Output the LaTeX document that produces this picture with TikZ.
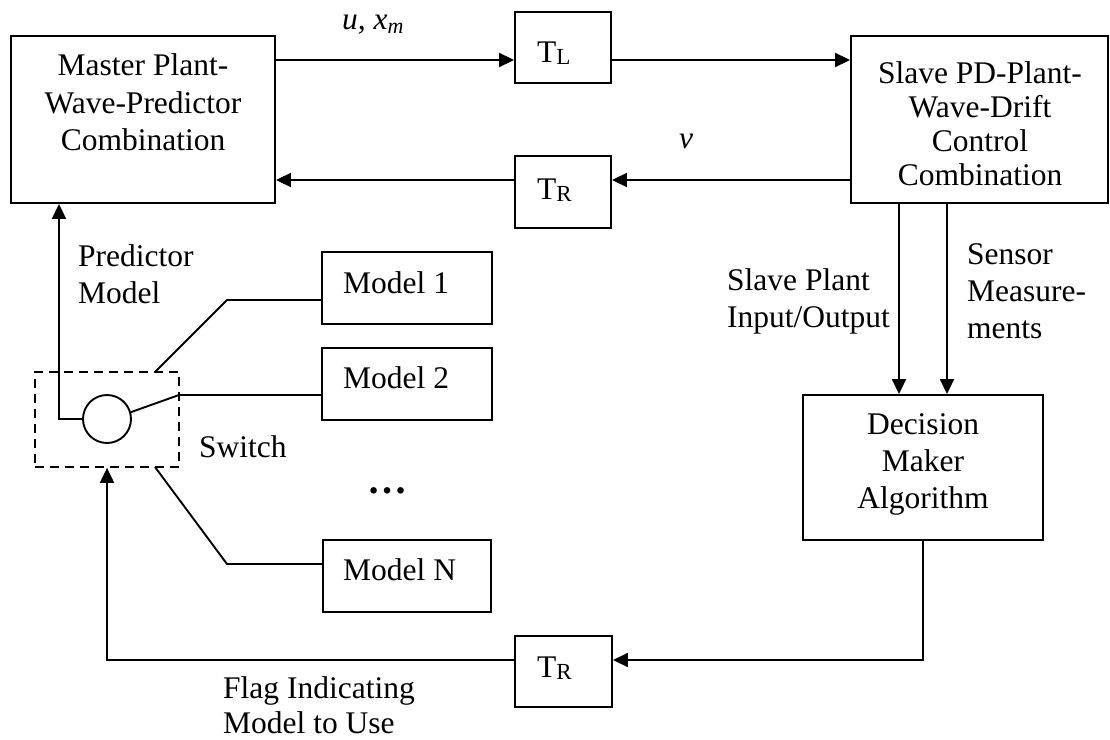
\documentclass[tikz,border=0pt]{standalone}
\usepackage{fontspec}
\setmainfont{Liberation Serif}
\usetikzlibrary{arrows.meta}
\begin{document}
\begin{tikzpicture}[x=1pt,y=-1pt,
  box/.style={draw, line width=1.9pt, inner sep=0pt},
  txt/.style={inner sep=0pt, font=\fontsize{31.5}{37.5}\selectfont},
  wire/.style={line width=1.9pt},
  arr/.style={wire, -{Triangle[length=15pt,width=14pt]}},
  sub/.style={}
]
\useasboundingbox (0,0) rectangle (1110,739);

% boxes
\node[box, minimum width=264pt, minimum height=167pt] (master) at (143,119.5) {};
\node[box, minimum width=96pt, minimum height=71pt] (tl) at (563,47.5) {};
\node[box, minimum width=96pt, minimum height=72pt] (tr1) at (563,192) {};
\node[box, minimum width=257pt, minimum height=167pt] (slave) at (979.5,119.5) {};
\node[box, minimum width=240pt, minimum height=145pt] (decision) at (923,467.5) {};
\node[box, minimum width=97pt, minimum height=71pt] (tr2) at (563.5,671.5) {};
\node[box, minimum width=170pt, minimum height=72pt] (m1) at (407,288) {};
\node[box, minimum width=170pt, minimum height=72pt] (m2) at (407,384) {};
\node[box, minimum width=168pt, minimum height=72pt] (mN) at (407,576) {};
\node[draw, line width=1.7pt, dash pattern=on 9pt off 6pt, inner sep=0pt,
      minimum width=144pt, minimum height=95pt] (sw) at (107,419.5) {};
\node[draw, circle, line width=1.9pt, inner sep=0pt, minimum size=48pt] (circ) at (107,419) {};

% texts
\node[txt, anchor=north, align=center] (mtxt) at (143,53.5) {Master Plant-\\Wave-Predictor\\Combination};
\node[txt, anchor=north, align=center, font=\fontsize{31.5}{34}\selectfont] (stxt) at (980,61.5) {Slave PD-Plant-\\Wave-Drift\\Control\\Combination};
\node[txt, anchor=north, align=center, font=\fontsize{31.5}{37}\selectfont] (dtxt) at (923,413.5) {Decision\\Maker\\Algorithm};
\node[txt, anchor=base west] (tltxt) at (537,62) {T\raisebox{-2.5pt}{\fontsize{23}{23}\selectfont L}};
\node[txt, anchor=base west] (tr1txt) at (537,199) {T\raisebox{-2.5pt}{\fontsize{23}{23}\selectfont R}};
\node[txt, anchor=base west] (tr2txt) at (537,677) {T\raisebox{-2.5pt}{\fontsize{23}{23}\selectfont R}};
\node[txt, anchor=base west] (m1txt) at (343,293) {Model 1};
\node[txt, anchor=base west] (m2txt) at (343,388) {Model 2};
\node[txt, anchor=base west] (mNtxt) at (343,580) {Model N};
\node[txt, anchor=base west] (uxm) at (342,29) {\itshape u, x\raisebox{-4pt}{\fontsize{22}{22}\selectfont m}};
\node[txt, anchor=base] (vtxt) at (686,148) {\itshape v};
\node[txt, anchor=north west, align=left, font=\fontsize{31.5}{37}\selectfont] (ptxt) at (78,244.5) {Predictor\\Model};
\node[txt, anchor=north west, align=left, font=\fontsize{31.5}{37}\selectfont] (sptxt) at (727,268.5) {Slave Plant\\Input/Output};
\node[txt, anchor=north west, align=left, font=\fontsize{31.5}{37}\selectfont] (sntxt) at (967,243.5) {Sensor\\Measure-\\ments};
\node[txt, anchor=base west] (swtxt) at (199,457) {Switch};
\node[txt, anchor=north west, align=left, font=\fontsize{31.5}{35}\selectfont] (flag) at (223,676.5) {Flag Indicating\\Model to Use};
\node[inner sep=0pt, font=\fontsize{40}{40}\selectfont\bfseries] (dots) at (387.5,491) {…};

% helper coordinates
\coordinate (rowtop) at (0,60);
\coordinate (rowbot) at (0,180);
\coordinate (rowlow) at (0,660);
\coordinate (c1) at (899,0);
\coordinate (c2) at (947,0);
\coordinate (pmx) at (59,0);
\coordinate (j1) at (155,372);
\coordinate (k1) at (227,300);
\coordinate (k2) at (179,395);
\coordinate (jN) at (155,467);
\coordinate (kN) at (227,564);

% connectors
\draw[arr] (master.east |- rowtop) -- (tl.west |- rowtop);
\draw[arr] (tl.east |- rowtop) -- (slave.west |- rowtop);
\draw[arr] (slave.west |- rowbot) -- (tr1.east |- rowbot);
\draw[arr] (tr1.west |- rowbot) -- (master.east |- rowbot);
\draw[arr] (c1 |- slave.south) -- (c1 |- decision.north);
\draw[arr] (c2 |- slave.south) -- (c2 |- decision.north);
\draw[arr] (circ.west) -| (pmx |- master.south);
\draw[wire] (j1) -- (k1) -- (m1.west |- k1);
\draw[wire] (circ.16) -- (k2) -- (m2.west |- k2);
\draw[wire] (jN) -- (kN) -- (mN.west |- kN);
\draw[arr] (decision.south) |- (tr2.east |- rowlow);
\draw[arr] (tr2.west |- rowlow) -| (sw.south);
\end{tikzpicture}
\end{document}
